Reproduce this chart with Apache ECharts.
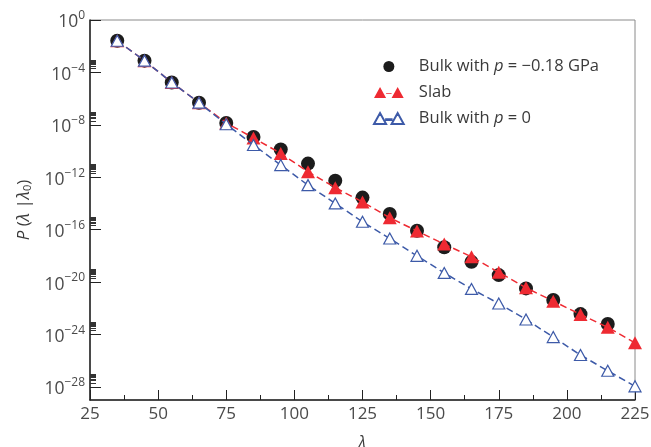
<!DOCTYPE html>
<html>
<head>
<meta charset="utf-8">
<style>
  html, body { margin: 0; padding: 0; background: #fff; }
  #chart { width: 651px; height: 447px; }
</style>
<script src="https://cdn.jsdelivr.net/npm/echarts@6/dist/echarts.min.js"></script>
</head>
<body>
<div id="chart"></div>
<script>
// λ values
const lambdaBulk = [35, 45, 55, 65, 75, 85, 95, 105, 115, 125, 135, 145, 155, 165, 175, 185, 195, 205, 215];
const lambdaAll = [35, 45, 55, 65, 75, 85, 95, 105, 115, 125, 135, 145, 155, 165, 175, 185, 195, 205, 215, 225];

// P(λ|λ0)
const bulkNeg = [2.6e-2, 7.9e-4, 1.7e-5, 4.9e-7, 1.4e-8, 1.2e-9, 1.3e-10, 1.1e-11, 5.4e-13, 2.8e-14,
  1.6e-15, 8.3e-17, 4.5e-18, 3.5e-19, 3.4e-20, 3.3e-21, 4.3e-22, 3.6e-23, 6.3e-24];
const slab = [2.6e-2, 7.9e-4, 1.7e-5, 4.9e-7, 1.4e-8, 1.0e-9, 6.6e-11, 2.6e-12, 1.6e-13, 1.3e-14,
  8.1e-16, 7.9e-17, 7.9e-18, 8.5e-19, 5.5e-20, 3.7e-21, 3.5e-22, 3.4e-23, 3.5e-24, 2.3e-25];
const bulkZero = [2.6e-2, 7.9e-4, 1.7e-5, 4.9e-7, 1.1e-8, 2.9e-10, 8.5e-12, 2.5e-13, 1.0e-14, 4.0e-16,
  2.1e-17, 1.0e-18, 5.0e-20, 3.0e-21, 2.3e-22, 1.4e-23, 6.3e-25, 2.7e-26, 1.7e-27, 1.1e-28];

// tick labels on y: 10^0, 10^-4, ... 10^-28
const yExponents = [0, -4, -8, -12, -16, -20, -24, -28];
const yMajor = yExponents.map(e => Math.pow(10, e));
// the small dense tick groups just above each labelled decade (2..9 × 10^e)
const yMinor = [];
yExponents.slice(1).forEach(e => {
  for (let k = 2; k <= 9; k++) yMinor.push(k * Math.pow(10, e));
});

const FONT = "'Open Sans', 'Noto Sans', sans-serif";
const RED = "#ee2a32";
const BLUE = "#3d5aa8";
const TXT = "#3a3a3a";

const pairs = (xs, ys) => ys.map((v, i) => [xs[i], v]);

// two triangles joined by a short dash, like the legend keys in the figure
const triPair = "path://M0,10 L5.5,0 L11,10 Z M11,5.6 L16,5.6 L16,6.4 L11,6.4 Z M16,10 L21.5,0 L27,10 Z";

const chart = echarts.init(document.getElementById("chart"), null, { renderer: "canvas" });

chart.setOption({
  animation: false,
  textStyle: { fontFamily: FONT },
  grid: {
    left: 90, right: 16, top: 20, bottom: 47,
    outerBoundsMode: "none",
    show: true, borderColor: "#8a8a8a", borderWidth: 1
  },
  legend: {
    orient: "vertical",
    left: 368,
    top: 53,
    itemGap: 9,
    itemWidth: 30,
    itemHeight: 11,
    data: [
      { name: "bulkNeg", icon: "circle" },
      { name: "slab", icon: triPair },
      { name: "bulkZero", icon: triPair }
    ],
    formatter: function (name) {
      if (name === "bulkNeg") return "{t|Bulk with }{i|p}{t| = \u22120.18 GPa}";
      if (name === "slab") return "{t|Slab}";
      return "{t|Bulk with }{i|p}{t| = 0}";
    },
    textStyle: {
      padding: [0, 0, 0, 10],
      rich: {
        t: { fontSize: 16.5, color: TXT, fontFamily: FONT },
        i: { fontSize: 16.5, color: TXT, fontStyle: "italic", fontFamily: FONT }
      }
    }
  },
  xAxis: {
    type: "value",
    min: 25,
    max: 225,
    interval: 25,
    name: "λ",
    nameLocation: "middle",
    nameGap: 35,
    nameTextStyle: { fontSize: 16, fontStyle: "italic", color: TXT, fontFamily: FONT },
    axisLine: { lineStyle: { color: "#222", width: 1.5 } },
    axisTick: { inside: true, length: 10, lineStyle: { color: "#222" } },
    minorTick: { show: true, splitNumber: 2, length: 5, lineStyle: { color: "#222" } },
    axisLabel: { fontSize: 17, color: "#4a4a4a", margin: 6, fontFamily: FONT },
    splitLine: { show: false }
  },
  yAxis: [
    {
      type: "log",
      logBase: 10,
      min: 1e-29,
      max: 1,
      name: "{i|P}{t| (}{i|λ}{t| |}{i|λ}{s|0}{t|)}",
      nameLocation: "middle",
      nameGap: 56,
      nameRotate: 90,
      nameTextStyle: {
        rich: {
          t: { fontSize: 17, color: TXT, fontFamily: FONT },
          i: { fontSize: 17, color: TXT, fontStyle: "italic", fontFamily: FONT },
          s: { fontSize: 11, color: TXT, fontFamily: FONT, padding: [7, 0, 0, 0] }
        }
      },
      axisLine: { lineStyle: { color: "#222", width: 1.5 } },
      axisTick: { inside: true, length: 11, customValues: yMajor, lineStyle: { color: "#222" } },
      axisLabel: {
        customValues: yMajor,
        margin: 5,
        formatter: function (v) {
          const e = Math.round(Math.log10(v));
          return "{b|10}{s|" + (e < 0 ? "\u2212" + (-e) : e) + "}";
        },
        rich: {
          b: { fontSize: 17.5, color: "#4a4a4a", fontFamily: FONT, padding: [5, 0, 0, 0] },
          s: { fontSize: 12, color: "#4a4a4a", fontFamily: FONT, padding: [0, 0, 8, 0] }
        }
      },
      splitLine: { show: false }
    },
    {
      type: "log",
      logBase: 10,
      min: 1e-29,
      max: 1,
      position: "left",
      axisLine: { show: false },
      axisTick: { inside: true, length: 6, customValues: yMinor, lineStyle: { color: "#333" } },
      axisLabel: { show: false },
      splitLine: { show: false }
    }
  ],
  series: [
    {
      name: "bulkNeg",
      type: "scatter",
      data: pairs(lambdaBulk, bulkNeg),
      symbol: "circle",
      symbolSize: 14,
      itemStyle: { color: "#1c1c1c", opacity: 1 },
      z: 2
    },
    {
      name: "slab",
      type: "line",
      data: pairs(lambdaAll, slab),
      symbol: "triangle",
      symbolSize: [14, 13],
      itemStyle: { color: RED },
      lineStyle: { color: RED, width: 1.5, type: [7, 4] },
      z: 3
    },
    {
      name: "bulkZero",
      type: "line",
      data: pairs(lambdaAll, bulkZero),
      symbol: "triangle",
      symbolSize: [12, 11],
      showAllSymbol: true,
      itemStyle: { color: "#fff", borderColor: BLUE, borderWidth: 1.2 },
      lineStyle: { color: BLUE, width: 1.5, type: [7, 4] },
      z: 4
    }
  ]
});
</script>
</body>
</html>
